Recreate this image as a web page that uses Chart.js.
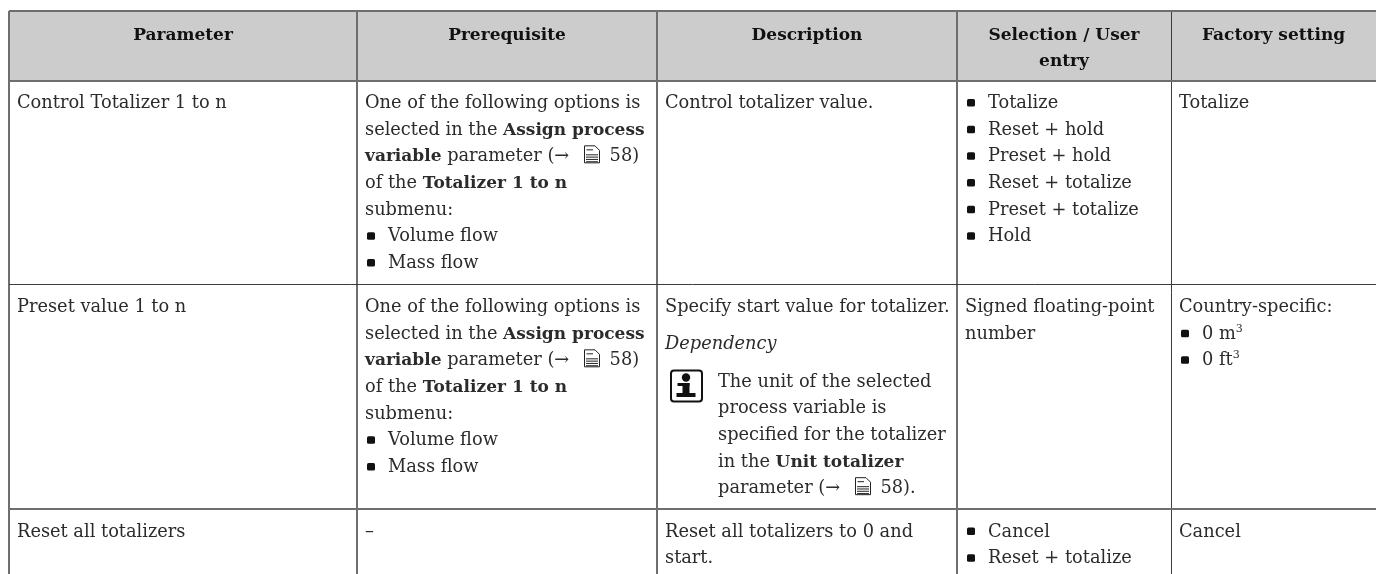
<!DOCTYPE html>
<html>
<head>
<meta charset="utf-8">
<script src="https://cdn.jsdelivr.net/npm/chart.js@4"></script>
<style>
html, body { margin: 0; padding: 0; background: #fff; overflow: hidden; }
#chart { display: block; }
</style>
</head>
<body>
<canvas id="chart" width="1376" height="574"></canvas>
<script>
// column and row edges of the table, in page units
const columnEdges = [9, 357, 657, 957, 1171];
const rowEdges = [11, 80.5, 284.5, 509];
const headerBand = [9, 1376];

const headers = [['Parameter'], ['Prerequisite'], ['Description'], ['Selection / User', 'entry'], ['Factory setting']];

// *bold* _italic_ ^sup^ @ = book icon, lines starting with "- " get a bullet
const prereq = [
    'One of the following options is',
    'selected in the *Assign process*',
    '*variable* parameter (→ @ 58)',
    'of the *Totalizer 1 to n*',
    'submenu:',
    '- Volume flow',
    '- Mass flow'
];
const parameterCol = [['Control Totalizer 1 to n'], ['Preset value 1 to n'], ['Reset all totalizers']];
const prerequisiteCol = [prereq, prereq, ['–']];
const descriptionCol = [
    ['Control totalizer value.'],
    ['Specify start value for totalizer.'],
    ['Reset all totalizers to 0 and', 'start.']
];
const dependencyLabel = '_Dependency_';
const noteLines = ['The unit of the selected', 'process variable is', 'specified for the totalizer', 'in the *Unit totalizer*', 'parameter (→ @ 58).'];
const selectionCol = [
    ['- Totalize', '- Reset + hold', '- Preset + hold', '- Reset + totalize', '- Preset + totalize', '- Hold'],
    ['Signed floating-point', 'number'],
    ['- Cancel', '- Reset + totalize']
];
const factoryCol = [
    ['Totalize'],
    ['Country-specific:', '- 0 m^3^', '- 0 ft^3^'],
    ['Cancel']
];
const bodyCols = [parameterCol, prerequisiteCol, descriptionCol, selectionCol, factoryCol];

const FONT = '"DejaVu Serif"';
const SIZE = 17.8;
const BOLD_SIZE = 17;
const LINE = 26.67;
const INK = '#2b2b2b';

function setFont(ctx, bold, italic, size) {
    ctx.font = (italic ? 'italic ' : '') + (bold ? 'bold ' : '') + size + 'px ' + FONT;
}

function bookIcon(ctx, x, y) {
    ctx.save();
    ctx.strokeStyle = '#222';
    ctx.lineWidth = 1;
    ctx.beginPath();
    ctx.moveTo(x + 0.5, y - 15.5);
    ctx.lineTo(x + 11, y - 15.5);
    ctx.lineTo(x + 15.5, y - 11);
    ctx.lineTo(x + 15.5, y + 1.5);
    ctx.lineTo(x + 0.5, y + 1.5);
    ctx.closePath();
    ctx.stroke();
    ctx.beginPath();
    for (let i = 0; i < 4; i++) {
        ctx.moveTo(x + 2, y - 6.5 + i * 2.3);
        ctx.lineTo(x + 14, y - 6.5 + i * 2.3);
    }
    ctx.moveTo(x + 2.5, y - 11.5);
    ctx.lineTo(x + 9, y - 11.5);
    ctx.stroke();
    ctx.restore();
}

function infoIcon(ctx, x, y) {
    ctx.save();
    ctx.strokeStyle = '#111';
    ctx.lineWidth = 2;
    ctx.beginPath();
    ctx.roundRect(x, y, 31, 31, 3);
    ctx.stroke();
    ctx.fillStyle = '#111';
    ctx.beginPath();
    ctx.arc(x + 15, y + 7, 4.2, 0, Math.PI * 2);
    ctx.fill();
    ctx.fillRect(x + 6.5, y + 12.5, 12, 3);
    ctx.fillRect(x + 11.5, y + 12.5, 7, 12);
    ctx.fillRect(x + 5.5, y + 22.5, 19, 4);
    ctx.restore();
}

// one line of text with inline markup, x is the left edge
function drawLine(ctx, text, x, y) {
    const parts = text.split(/(\*[^*]+\*|_[^_]+_|\^[^^]+\^|@)/).filter(p => p !== '');
    ctx.fillStyle = INK;
    ctx.textBaseline = 'alphabetic';
    ctx.textAlign = 'left';
    parts.forEach(p => {
        if (p === '@') {
            bookIcon(ctx, Math.round(x + 9.5), y);
            x += 29;
            return;
        }
        let bold = false, italic = false, sup = false, t = p;
        if (p[0] === '*') { bold = true; t = p.slice(1, -1); }
        if (p[0] === '_') { italic = true; t = p.slice(1, -1); }
        if (p[0] === '^') { sup = true; t = p.slice(1, -1); }
        setFont(ctx, bold, italic, sup ? SIZE * 0.62 : (bold ? BOLD_SIZE : SIZE));
        ctx.fillText(t, x, sup ? y - 7 : y);
        x += ctx.measureText(t).width;
    });
}

function drawBlock(ctx, lines, x, y) {
    lines.forEach((l, i) => {
        const ly = y + i * LINE;
        if (l.startsWith('- ')) {
            ctx.fillStyle = '#111';
            ctx.beginPath();
            ctx.roundRect(x + 2, ly - 9, 8, 7.5, 1.5);
            ctx.fill();
            drawLine(ctx, l.slice(2), x + 23, ly);
        } else {
            drawLine(ctx, l, x, ly);
        }
    });
}

const tablePlugin = {
    id: 'tableText',
    afterDraw(chart) {
        const ctx = chart.ctx;
        const xs = chart.scales.x;
        const ys = chart.scales.y;
        ctx.save();
        const right = [...columnEdges.slice(1), 1376];
        headers.forEach((h, c) => {
            const cx = (xs.getPixelForValue(columnEdges[c]) + xs.getPixelForValue(right[c])) / 2;
            h.forEach((t, i) => {
                setFont(ctx, true, false, BOLD_SIZE);
                ctx.fillStyle = '#111';
                ctx.textAlign = 'center';
                ctx.textBaseline = 'alphabetic';
                ctx.fillText(t, cx, ys.getPixelForValue(rowEdges[0]) + 28.5 + i * LINE);
            });
        });
        bodyCols.forEach((col, c) => {
            const x = xs.getPixelForValue(columnEdges[c]) + 8;
            col.forEach((lines, r) => {
                drawBlock(ctx, lines, x, ys.getPixelForValue(rowEdges[r + 1]) + 27.5);
            });
        });
        // the note in the description cell of the second row
        const dx = xs.getPixelForValue(columnEdges[2]) + 8;
        const ry = ys.getPixelForValue(rowEdges[2]) + 27;
        drawLine(ctx, dependencyLabel, dx, ry + 37);
        infoIcon(ctx, dx + 6, ry + 59);
        drawBlock(ctx, noteLines, dx + 53, ry + 75);
        ctx.restore();
    }
};

const edgeColor = '#6e6e6e';
const thinColor = '#3c3c3c';
// the page raster leaves some rules thin and dark, others wide and grey
const xRuleThin = [false, false, false, false, true];
const yRuleThin = [false, false, true, false];

function ruleGrid(thin) {
    return {
        color: c => thin[c.index] ? thinColor : edgeColor,
        lineWidth: c => thin[c.index] ? 1 : 2,
        drawTicks: false,
        z: 1
    };
}

new Chart(document.getElementById('chart'), {
    type: 'scatter',
    data: {
        datasets: [{
            type: 'line',
            data: headerBand.map(x => ({ x: x, y: rowEdges[1] })),
            borderWidth: 0,
            pointRadius: 0,
            backgroundColor: '#cccccc',
            fill: { value: rowEdges[0] }
        }]
    },
    options: {
        responsive: false,
        animation: false,
        layout: { padding: { left: 9, top: 11, right: 0, bottom: 0 } },
        plugins: { legend: { display: false }, tooltip: { enabled: false } },
        scales: {
            x: {
                type: 'linear',
                min: 9,
                max: 1376,
                afterBuildTicks: axis => { axis.ticks = columnEdges.map(v => ({ value: v })); },
                ticks: { display: false },
                border: { display: false },
                grid: ruleGrid(xRuleThin)
            },
            y: {
                type: 'linear',
                reverse: true,
                min: 11,
                max: 574,
                afterBuildTicks: axis => { axis.ticks = rowEdges.map(v => ({ value: v })); },
                ticks: { display: false },
                border: { display: false },
                grid: ruleGrid(yRuleThin)
            }
        }
    },
    plugins: [tablePlugin]
});
</script>
</body>
</html>
